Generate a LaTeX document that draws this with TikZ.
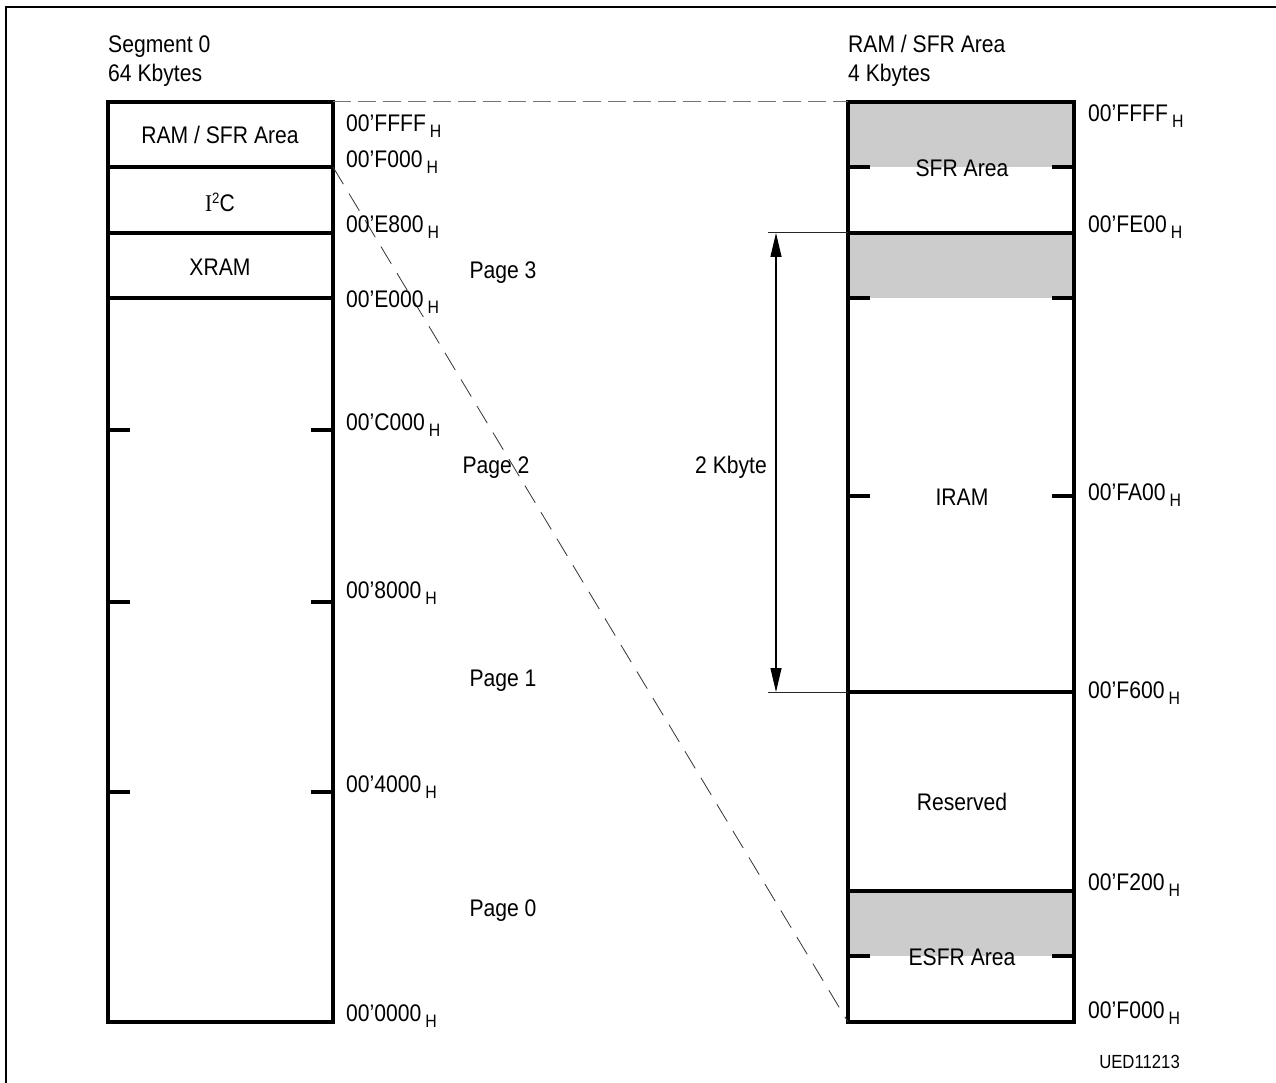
\documentclass[tikz,border=0pt]{standalone}
\usepackage{fontspec}
\setmainfont{Liberation Sans}[FakeStretch=0.88]
\newfontfamily\serifI{Liberation Serif}[FakeStretch=0.88]
\usetikzlibrary{arrows.meta}
\newcommand\addrH[1]{#1\kern4pt\raisebox{-6pt}{\fontsize{18}{18}\selectfont H}}
\begin{document}
\begin{tikzpicture}[x=1pt,y=-1pt,
  lbl/.style={font=\fontsize{24}{28}\selectfont, inner sep=0pt, anchor=base},
  adr/.style={lbl, anchor=base west},
  boxline/.style={line width=3.2pt},
  tk/.style={line width=3.2pt},
  shade/.style={fill=black!20, draw=none},
  dashA/.style={draw=black!55, line width=1pt, dash pattern=on 18pt off 7pt},
  dashB/.style={draw=black!80, line width=0.8pt, dash pattern=on 20pt off 11pt},
  dimline/.style={line width=1.2pt, {Triangle[length=24pt,width=11pt]}-{Triangle[length=24pt,width=11pt]}},
  extline/.style={line width=1pt, draw=black!85}
]
\useasboundingbox (0,0) rectangle (1276,1083);
% frame
\draw[line width=2pt] (6,1083) -- (6,7) -- (1276,7);

% ---------- coordinates ----------
\coordinate (LTL) at (108,102);
\coordinate (LTR) at (333,102);
\coordinate (LF0) at (333,167);
\coordinate (LBR) at (333,1022);
\coordinate (RTL) at (848,102);
\coordinate (RBL) at (848,1022);
\coordinate (RTR) at (1074,102);
\coordinate (DimTop) at (776,233);
\coordinate (DimBot) at (776,692);
\coordinate (ExtTop) at (768,233);
\coordinate (ExtBot) at (768,692);
\coordinate (RFE) at (848,233);
\coordinate (RF6) at (848,692);

% ---------- right box shading ----------
\fill[shade] (848,102) rectangle (1074,167);
\fill[shade] (848,233) rectangle (1074,298);
\fill[shade] (848,891) rectangle (1074,956);

% ---------- left box ----------
\draw[boxline] (LTL) rectangle (LBR);
\draw[boxline] (108,167) -- (333,167);
\draw[boxline] (108,233) -- (333,233);
\draw[boxline] (108,298) -- (333,298);
\foreach \yy in {430,602,792}{
  \draw[tk] (108,\yy) -- (130,\yy);
  \draw[tk] (311,\yy) -- (333,\yy);
}

% ---------- right box ----------
\draw[boxline] (RTL) rectangle (1074,1022);
\draw[boxline] (848,233) -- (1074,233);
\draw[boxline] (848,692) -- (1074,692);
\draw[boxline] (848,891) -- (1074,891);
\foreach \yy in {167,298,496,956}{
  \draw[tk] (848,\yy) -- (870,\yy);
  \draw[tk] (1052,\yy) -- (1074,\yy);
}

% ---------- connectors ----------
\draw[dashA] (LTR) -- (RTL);
\draw[dashB] (LF0) -- (RBL);
\draw[extline] (ExtTop) -- (RFE);
\draw[extline] (ExtBot) -- (RF6);
\draw[dimline] (DimTop) -- (DimBot);

% ---------- titles ----------
\node[lbl, anchor=base west] (t1) at (108,53) {Segment 0};
\node[lbl, anchor=base west] (t2) at (108,82) {64 Kbytes};
\node[lbl, anchor=base west] (t3) at (848,53) {RAM / SFR Area};
\node[lbl, anchor=base west] (t4) at (848,82) {4 Kbytes};

% ---------- left box texts ----------
\node[lbl] (ramsfr) at (220,144) {RAM / SFR Area};
\node[lbl] (iic) at (220,212) {{\serifI I}\raisebox{8pt}{\fontsize{15}{15}\selectfont 2}C};
\node[lbl] (xram) at (220,275) {XRAM};

% ---------- left addresses ----------
\node[adr] (a1) at (346,132) {\addrH{00’FFFF}};
\node[adr] (a2) at (346,168) {\addrH{00’F000}};
\node[adr] (a3) at (346,233) {\addrH{00’E800}};
\node[adr] (a4) at (346,307) {\addrH{00’E000}};
\node[adr] (a5) at (346,430) {\addrH{00’C000}};
\node[adr] (a6) at (346,598) {\addrH{00’8000}};
\node[adr] (a7) at (346,792) {\addrH{00’4000}};
\node[adr] (a8) at (346,1021) {\addrH{00’0000}};

% ---------- pages ----------
\node[lbl] (p3) at (503,278) {Page 3};
\node[lbl] (p2) at (496,473) {Page 2};
\node[lbl] (p1) at (503,686) {Page 1};
\node[lbl] (p0) at (503,916) {Page 0};
\node[lbl] (kb) at (731,473) {2 Kbyte};

% ---------- right box texts ----------
\node[lbl] (sfr) at (962,177) {SFR Area};
\node[lbl] (iram) at (962,505) {IRAM};
\node[lbl] (res) at (962,810) {Reserved};
\node[lbl] (esfr) at (962,965) {ESFR Area};

% ---------- right addresses ----------
\node[adr] (b1) at (1088,122) {\addrH{00’FFFF}};
\node[adr] (b2) at (1088,233) {\addrH{00’FE00}};
\node[adr] (b3) at (1088,500) {\addrH{00’FA00}};
\node[adr] (b4) at (1088,698) {\addrH{00’F600}};
\node[adr] (b5) at (1088,890) {\addrH{00’F200}};
\node[adr] (b6) at (1088,1018) {\addrH{00’F000}};
\node[lbl, anchor=base east, font=\fontsize{19}{22}\selectfont] (ued) at (1180,1068) {UED11213};
\end{tikzpicture}
\end{document}
